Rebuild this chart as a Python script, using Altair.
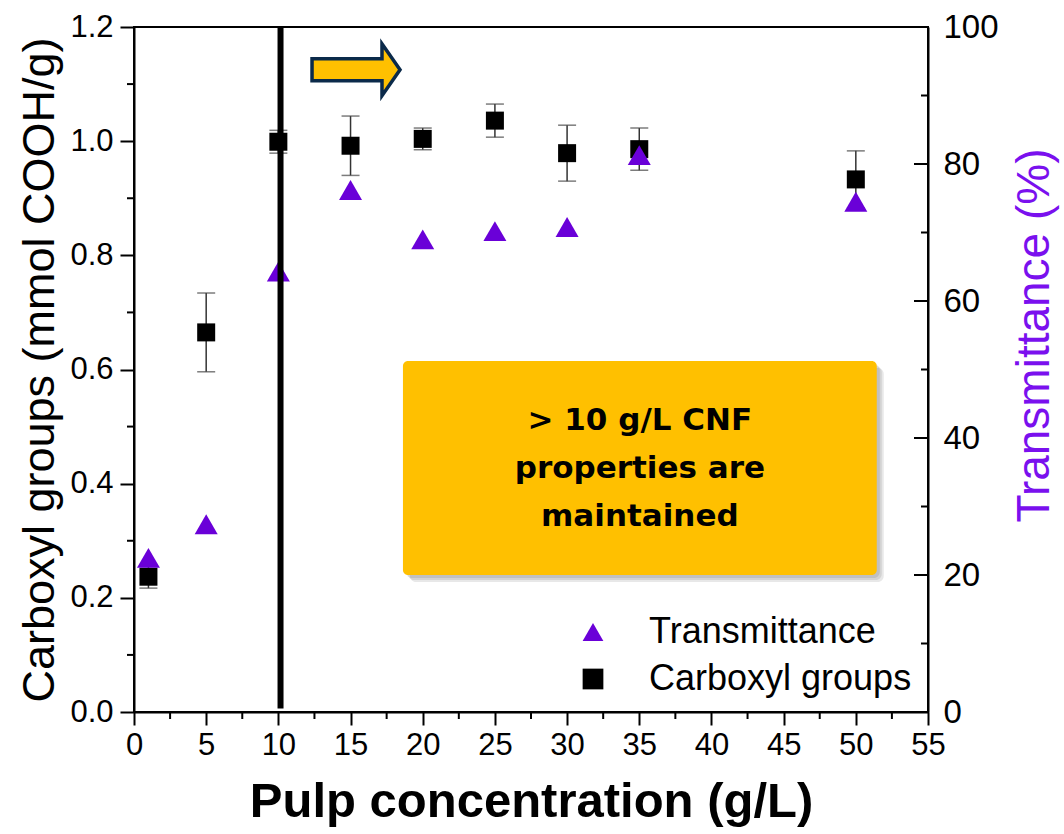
import altair as alt
import pandas as pd

# ---------------- data ----------------
conc = [1, 5, 10, 15, 20, 25, 30, 35, 50]
carboxyl = [0.237, 0.665, 0.999, 0.992, 1.004, 1.036, 0.979, 0.986, 0.933]
carboxyl_err = [0.020, 0.069, 0.020, 0.052, 0.019, 0.029, 0.049, 0.037, 0.050]
transmittance = [22.5, 27.4, 64.3, 76.2, 69.0, 70.2, 70.8, 81.3, 74.5]

x_ticks = [0, 5, 10, 15, 20, 25, 30, 35, 40, 45, 50, 55]
x_minor = [2.5, 7.5, 12.5, 17.5, 22.5, 27.5, 32.5, 37.5, 42.5, 47.5, 52.5]
left_ticks = [0.0, 0.2, 0.4, 0.6, 0.8, 1.0, 1.2]
left_minor = [0.1, 0.3, 0.5, 0.7, 0.9, 1.1]
right_ticks = [0, 20, 40, 60, 80, 100]
right_minor = [10, 30, 50, 70, 90]

series_names = ["Transmittance", "Carboxyl groups"]
series_colors = ["#6a00d8", "#000000"]
series_shapes = ["triangle-up", "square"]

threshold_conc = [10.15]
threshold_span = [0.5, 100]          # in transmittance units (right axis)
box_x = [18.63, 51.45]
box_y = [0.240, 0.615]
box_lines = ["> 10 g/L CNF", "properties are", "maintained"]
box_text_baseline = 0.494
arrow_pos = [15.38, 1.125]

PURPLE = "#6a00d8"
TITLE_PURPLE = "#7a10ee"
YELLOW = "#FFC000"
NAVY = "#0b2a4a"
FONT = "Liberation Sans"

W, H = 794, 685

# ---------------- tables ----------------
df = pd.DataFrame({
    "conc": conc,
    "carboxyl": carboxyl,
    "lo": [c - e for c, e in zip(carboxyl, carboxyl_err)],
    "hi": [c + e for c, e in zip(carboxyl, carboxyl_err)],
    "trans": transmittance,
})
df_xminor = pd.DataFrame({"conc": x_minor})
df_lminor = pd.DataFrame({"carboxyl": left_minor})
df_rmajor = pd.DataFrame({"trans": right_ticks})
df_rminor = pd.DataFrame({"trans": right_minor})
df_line = pd.DataFrame({"conc": threshold_conc, "trans": [threshold_span[0]], "trans2": [threshold_span[1]]})
dx = 55 / W
dy = 1.2 / H
df_box = pd.DataFrame({"conc": [box_x[0]], "conc2": [box_x[1]], "carboxyl": [box_y[0]], "carboxyl2": [box_y[1]]})
df_shadow = pd.DataFrame({
    "conc": [box_x[0] + k * dx for k in (3, 5, 7)],
    "conc2": [box_x[1] + k * dx for k in (3, 5, 7)],
    "carboxyl": [box_y[0] - k * dy for k in (3, 5, 7)],
    "carboxyl2": [box_y[1] - k * dy for k in (3, 5, 7)],
})
df_text = pd.DataFrame({"conc": [sum(box_x) / 2], "carboxyl": [box_text_baseline], "t": ["\n".join(box_lines)]})
df_arrow = pd.DataFrame({"conc": [arrow_pos[0]], "carboxyl": [arrow_pos[1]]})

xscale = alt.Scale(domain=[0, 55], nice=False, zero=False)
lscale = alt.Scale(domain=[0, 1.2], nice=False, zero=False)
rscale = alt.Scale(domain=[0, 100], nice=False, zero=False)

legend = alt.Legend(
    orient="none", legendX=441, legendY=587, title=None,
    labelFont=FONT, labelFontSize=36, labelColor="black", labelLimit=0,
    symbolSize=430, rowPadding=11, labelOffset=38, padding=0,
    symbolStrokeWidth=0,
)
color_enc = alt.Color("series:N", scale=alt.Scale(domain=series_names, range=series_colors), legend=legend)
shape_enc = alt.Shape("series:N", scale=alt.Scale(domain=series_names, range=series_shapes), legend=legend)

X = alt.X(
    "conc:Q", scale=xscale,
    axis=alt.Axis(
        values=x_ticks, title="Pulp concentration (g/L)", tickSize=13,
        labelFontSize=31, labelPadding=5, titleFontSize=49, titleFontWeight="bold",
        titlePadding=17, labelFlush=False, format="d",
    ),
)
YL = alt.Y(
    "carboxyl:Q", scale=lscale,
    axis=alt.Axis(
        orient="left", values=left_ticks, format=".1f", tickSize=14,
        labelFontSize=31, labelPadding=7,
        title="Carboxyl groups (mmol COOH/g)", titleFontSize=45, titlePadding=7,
        labelFlush=False,
    ),
)
YR = alt.Y(
    "trans:Q", scale=rscale,
    axis=alt.Axis(
        orient="right", values=right_ticks, ticks=False, labelFontSize=33,
        labelPadding=15, title="Transmittance (%)", titleColor=TITLE_PURPLE,
        titleFontSize=46, titlePadding=60, titleAngle=270, titleY=308,
        labelFlush=False,
    ),
)

# ---------------- left group ----------------
base = alt.Chart(df)

shadow = alt.Chart(df_shadow).mark_rect(cornerRadius=6, color="#000000", opacity=0.09).encode(
    x=X, x2="conc2:Q", y=YL, y2="carboxyl2:Q",
)
box = alt.Chart(df_box).mark_rect(cornerRadius=5, color=YELLOW).encode(
    x=X, x2="conc2:Q", y=YL, y2="carboxyl2:Q",
)
box_text = alt.Chart(df_text).mark_text(
    font="DejaVu Sans", fontWeight="bold", fontSize=31, lineBreak="\n", lineHeight=48,
    align="center", baseline="alphabetic", color="black",
).encode(x=X, y=YL, text="t:N")

arrow_path = "M-1,-0.25L0.59,-0.25L0.59,-0.59L1,0L0.59,0.59L0.59,0.25L-1,0.25Z"
arrow = alt.Chart(df_arrow).mark_point(
    shape=arrow_path, size=7744, filled=True, fill=YELLOW, stroke=NAVY, strokeWidth=3.5, opacity=1,
).encode(x=X, y=YL)

err = base.mark_rule(color="#333333", strokeWidth=1.5).encode(
    x=X, y=alt.Y("lo:Q", scale=lscale), y2="hi:Q",
)
cap_lo = base.mark_tick(orient="horizontal", size=18, thickness=1.5, color="#444444").encode(
    x=X, y=alt.Y("lo:Q", scale=lscale),
)
cap_hi = base.mark_tick(orient="horizontal", size=18, thickness=1.5, color="#444444").encode(
    x=X, y=alt.Y("hi:Q", scale=lscale),
)
squares = base.transform_calculate(series="'Carboxyl groups'").mark_point(
    filled=True, size=324, opacity=1, strokeWidth=0,
).encode(x=X, y=YL, color=color_enc, shape=shape_enc)

xminor = alt.Chart(df_xminor).mark_rule(color="black", strokeWidth=2).encode(
    x=X, y=alt.value(H), y2=alt.value(H + 7),
)
lminor = alt.Chart(df_lminor).mark_rule(color="black", strokeWidth=2).encode(
    y=YL, x=alt.value(0), x2=alt.value(-7),
)

left = alt.layer(shadow, box, box_text, arrow, err, cap_lo, cap_hi, squares, xminor, lminor)

# ---------------- right group ----------------
triangles = base.transform_calculate(series="'Transmittance'").mark_point(
    filled=True, size=529, opacity=1, strokeWidth=0,
).encode(x=X, y=YR, color=color_enc, shape=shape_enc)

vline = alt.Chart(df_line).mark_rule(color="black", strokeWidth=6).encode(
    x=X, y=YR, y2="trans2:Q",
)
rmajor = alt.Chart(df_rmajor).mark_rule(color="black", strokeWidth=2).encode(
    y=YR, x=alt.value(W), x2=alt.value(W - 14),
)
rminor = alt.Chart(df_rminor).mark_rule(color="black", strokeWidth=2).encode(
    y=YR, x=alt.value(W), x2=alt.value(W - 7),
)
right = alt.layer(triangles, vline, rmajor, rminor)

chart = (
    alt.layer(left, right)
    .resolve_scale(y="independent")
    .properties(
        width=W, height=H, autosize="none",
        padding={"left": 134, "top": 27, "right": 136, "bottom": 122},
        background="white",
    )
    .configure_axis(
        domainColor="black", domainWidth=2, tickColor="black", tickWidth=2,
        labelColor="black", labelFont=FONT, titleFont=FONT, titleColor="black",
        titleFontWeight="normal", grid=False,
    )
    .configure_view(stroke="black", strokeWidth=2)
)

chart.save("out.html", embed_options={"renderer": "svg", "actions": False})
